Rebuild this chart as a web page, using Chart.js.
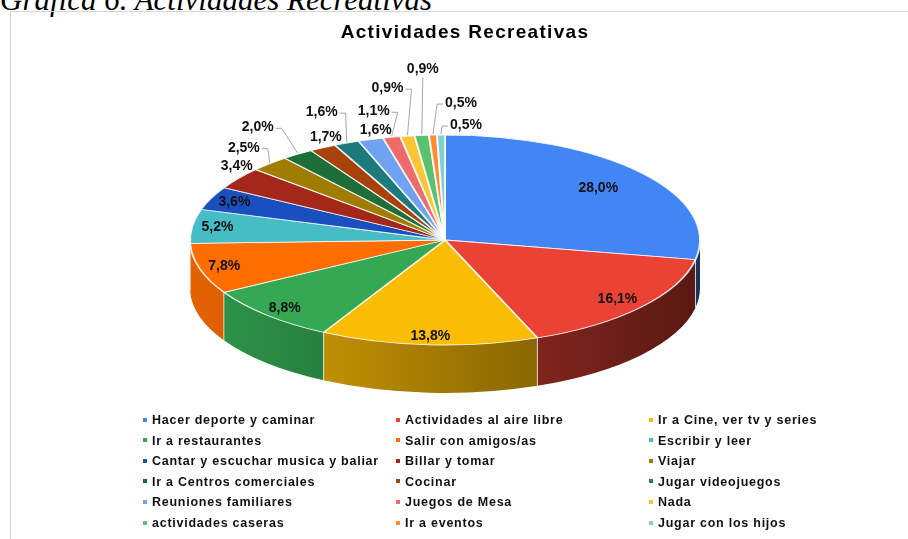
<!DOCTYPE html>
<html><head><meta charset="utf-8">
<script src="https://cdn.jsdelivr.net/npm/chart.js@4.4.1/dist/chart.umd.min.js"></script>
<style>
html,body{margin:0;padding:0;background:#fff;width:908px;height:539px;overflow:hidden;position:relative;font-family:"Liberation Sans",Arial,sans-serif;}
#caption{position:absolute;left:0;top:-16px;font:italic 31px/31px "Liberation Serif","Times New Roman",serif;color:#000;white-space:nowrap;}
#frame{position:absolute;left:10px;top:11px;width:930px;height:560px;border:1px solid #d6d6d6;box-sizing:border-box;}
#title{position:absolute;left:0;width:930px;top:22px;text-align:center;font:bold 19px/19px "Liberation Sans",Arial,sans-serif;letter-spacing:1.3px;color:#000;}
#c{position:absolute;left:0;top:0;}
#legend{position:absolute;left:143px;top:410px;display:grid;grid-template-columns:253px 253px 253px;grid-auto-rows:20.6px;}
#legend div{font:bold 12.5px/20.6px "Liberation Sans",Arial,sans-serif;letter-spacing:0.75px;color:#111;white-space:nowrap;}
#legend span{display:inline-block;width:4px;height:4px;margin-right:5px;vertical-align:middle;position:relative;top:-1px;}
</style></head>
<body>
<div id="caption">Gráfica 6. Actividades Recreativas</div>
<div id="frame"></div>
<canvas id="c" width="908" height="539"></canvas>
<div id="title">Actividades Recreativas</div>
<div id="legend"></div>
<script>
const categories = [
  'Hacer deporte y caminar','Actividades al aire libre','Ir a Cine, ver tv y series',
  'Ir a restaurantes','Salir con amigos/as','Escribir y leer',
  'Cantar y escuchar musica y baliar','Billar y tomar','Viajar',
  'Ir a Centros comerciales','Cocinar','Jugar videojuegos',
  'Reuniones familiares','Juegos de Mesa','Nada',
  'actividades caseras','Ir a eventos','Jugar con los hijos'
];
const values = [28.0,16.1,13.8,8.8,7.8,5.2,3.6,3.4,2.5,2.0,1.7,1.6,1.6,1.1,0.9,0.9,0.5,0.5];
const colors = ['#4285F4','#EA4335','#FBBC04','#34A853','#FF6D01','#46BDC6','#1A4FC0','#A3281B','#A07D00',
  '#1D6E38','#A8420C','#1F7A7E','#6FA3F0','#EF6B6B','#FBC535','#5AC26E','#FF8A30','#7ECFD6'];

// label layout (style, not data): inner labels at a radius fraction; outer ones offset from slice edge
const innerFractions = [0.78,0.88,0.92,0.9,0.9,0.9,0.9];
const outerLayout = {
  7:{dx:-2,dy:-12,line:false},
  8:{dx:-26,dy:-16,line:true},
  9:{dx:-40,dy:-27,line:true},
  10:{dx:3,dy:-11,line:false},
  11:{dx:-25,dy:-31,line:true},
  12:{dx:5,dy:-9,line:false},
  13:{dx:-18,dy:-26,line:true},
  14:{dx:-20,dy:-48,line:true},
  15:{dx:1,dy:-66,line:true},
  16:{dx:28,dy:-32,line:true},
  17:{dx:25,dy:-10,line:true}
};
const DEPTH = 48;

function shade(hex, f){
  const n = parseInt(hex.slice(1),16);
  const r = Math.round(((n>>16)&255)*f), g = Math.round(((n>>8)&255)*f), b = Math.round((n&255)*f);
  return `rgb(${r},${g},${b})`;
}
function fmt(v){ return v.toFixed(1).replace('.',',') + '%'; }

// legend
const lg = document.getElementById('legend');
categories.forEach((c,i)=>{
  const d = document.createElement('div');
  const s = document.createElement('span');
  s.style.background = colors[i];
  d.appendChild(s);
  d.appendChild(document.createTextNode(c));
  lg.appendChild(d);
});

const pie3d = {
  id:'pie3d',
  beforeDatasetsDraw(chart){
    const meta = chart.getDatasetMeta(0);
    const ca = chart.chartArea;
    const el0 = meta.data[0];
    const R = el0.outerRadius, cx = el0.x, cy = el0.y;
    const rx = ca.width/2, ry = ca.height/2;
    chart.$geo = {R,cx,cy,rx,ry};
    const ctx = chart.ctx;
    meta.data.forEach((el,i)=>{
      const a0 = Math.max(el.startAngle,0), a1 = Math.min(el.endAngle,Math.PI);
      if (a1 <= a0) return;
      const g = ctx.createLinearGradient(cx-rx,0,cx+rx,0);
      g.addColorStop(0, shade(colors[i],0.9));
      g.addColorStop(1, shade(colors[i],0.38));
      ctx.beginPath();
      ctx.ellipse(cx,cy,rx,ry,0,a0,a1,false);
      ctx.ellipse(cx,cy+DEPTH,rx,ry,0,a1,a0,true);
      ctx.closePath();
      ctx.fillStyle = g;
      ctx.fill();
    });
    ctx.save();
    ctx.strokeStyle = 'rgba(255,255,255,0.7)';
    ctx.lineWidth = 1;
    meta.data.forEach(el=>{
      const a = el.startAngle;
      if (a > 0 && a < Math.PI){
        const x = cx + rx*Math.cos(a), y = cy + ry*Math.sin(a);
        ctx.beginPath(); ctx.moveTo(x,y); ctx.lineTo(x,y+DEPTH); ctx.stroke();
      }
    });
    ctx.restore();
    ctx.save();
    ctx.translate(cx,cy);
    ctx.scale(rx/R, ry/R);
    ctx.translate(-cx,-cy);
  },
  afterDatasetsDraw(chart){
    const ctx = chart.ctx;
    ctx.restore();
    const {cx,cy,rx,ry} = chart.$geo;
    const meta = chart.getDatasetMeta(0);
    ctx.save();
    ctx.font = 'bold 14px "Liberation Sans", Arial, sans-serif';
    ctx.textAlign = 'center';
    ctx.textBaseline = 'middle';
    meta.data.forEach((el,i)=>{
      const mid = (el.startAngle + el.endAngle)/2;
      const txt = fmt(values[i]);
      if (i < innerFractions.length){
        const f = innerFractions[i];
        ctx.fillStyle = '#111';
        ctx.fillText(txt, cx + rx*f*Math.cos(mid), cy + ry*f*Math.sin(mid));
        return;
      }
      const L = outerLayout[i];
      const ax = cx + rx*Math.cos(mid), ay = cy + ry*Math.sin(mid);
      const lx = ax + L.dx, ly = ay + L.dy;
      const w = ctx.measureText(txt).width;
      if (L.line){
        ctx.strokeStyle = '#a6a6a6';
        ctx.lineWidth = 1;
        ctx.beginPath();
        if (Math.abs(L.dx) < 8){
          ctx.moveTo(lx, ly+8); ctx.lineTo(ax, ay-1);
        } else if (L.dx < 0){
          const sx = lx + w/2 + 2;
          ctx.moveTo(sx, ly+1); ctx.lineTo(sx+6, ly+1); ctx.lineTo(ax, ay-1);
        } else {
          const sx = lx - w/2 - 2;
          ctx.moveTo(sx, ly+1); ctx.lineTo(sx-6, ly+1); ctx.lineTo(ax, ay-1);
        }
        ctx.stroke();
      }
      ctx.fillStyle = '#111';
      ctx.fillText(txt, lx, ly);
    });
    ctx.restore();
  }
};

new Chart(document.getElementById('c'), {
  type:'pie',
  data:{
    labels: categories,
    datasets:[{
      data: values,
      backgroundColor: colors,
      borderColor: 'rgba(255,255,255,0.85)',
      borderWidth: 0.8,
      clip: false
    }]
  },
  options:{
    responsive:false,
    animation:false,
    events:[],
    layout:{padding:{left:190,right:208,top:135,bottom:194}},
    plugins:{legend:{display:false},tooltip:{enabled:false},title:{display:false}}
  },
  plugins:[pie3d]
});
</script>
</body></html>
